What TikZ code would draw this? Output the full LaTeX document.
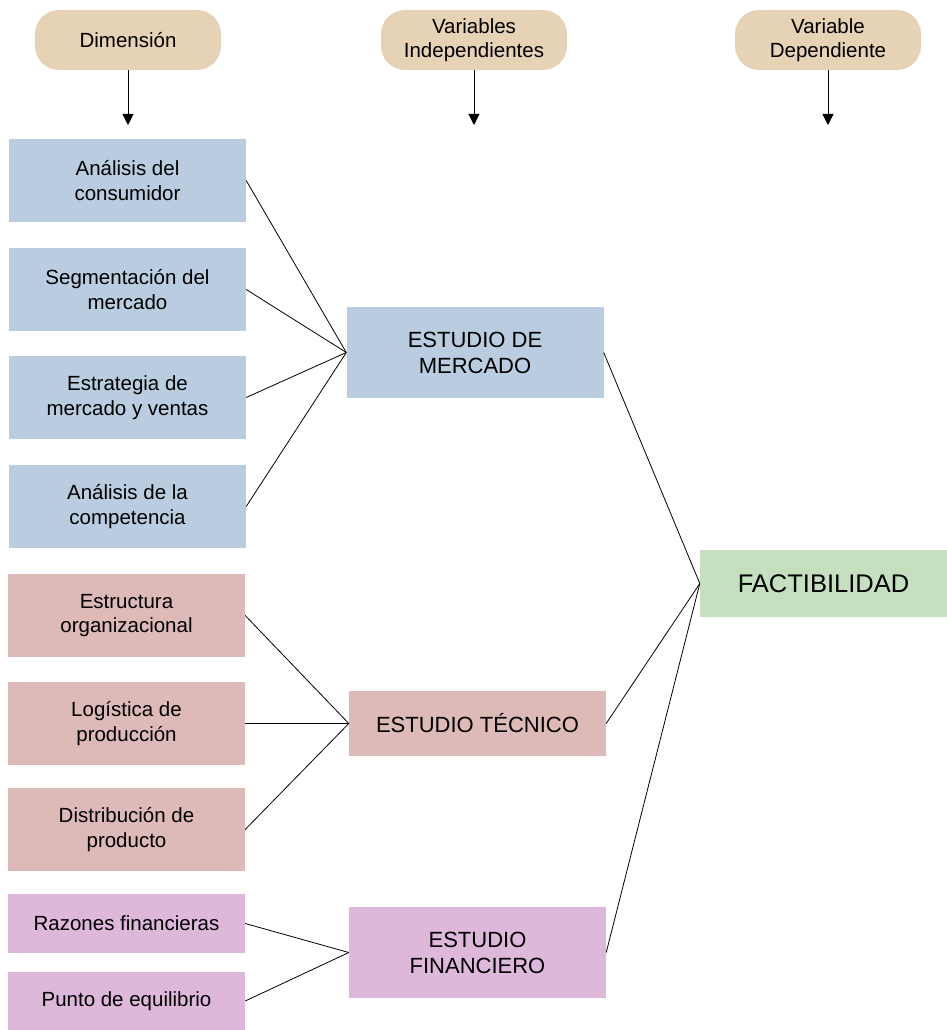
\documentclass[tikz,border=0pt]{standalone}
\usepackage{fontspec}
\setmainfont{Liberation Sans}
\usetikzlibrary{arrows.meta}

\definecolor{pillcol}{RGB}{230,210,181}
\definecolor{mercadocol}{RGB}{186,204,224}
\definecolor{tecnicocol}{RGB}{221,186,184}
\definecolor{financol}{RGB}{221,184,218}
\definecolor{factcol}{RGB}{197,224,190}

\begin{document}
\begin{tikzpicture}[x=1pt,y=-1pt,
		pill/.style={fill=pillcol, rounded corners=24pt, minimum width=186pt, minimum height=60pt, inner sep=0pt, align=center, font=\fontsize{20.5}{24.5}\selectfont},
		dimbox/.style={minimum width=237pt, minimum height=83pt, inner sep=0pt, align=center, font=\fontsize{20.5}{24.5}\selectfont},
		varbox/.style={minimum width=257pt, inner sep=0pt, align=center, font=\fontsize{22}{26}\selectfont},
		link/.style={black, line width=0.8pt},
		down/.style={black, line width=0.8pt, -{Triangle[width=11pt,length=11pt]}}
	]
		\useasboundingbox (0,0) rectangle (947,1030);
		
		% cabeceras
		\begin{scope}
		\node [pill] (hdim) at (128,40) {Dimensión};
		\node [pill] (hind) at (474,40) {Variables\\Independientes};
		\node [pill] (hdep) at (828,40) {Variable\\Dependiente};
		\coordinate (adim) at (128,125);
		\coordinate (aind) at (474,125);
		\coordinate (adep) at (828,125);
		\draw [down] (hdim.south) -- (adim);
		\draw [down] (hind.south) -- (aind);
		\draw [down] (hdep.south) -- (adep);
		\end{scope}
		
		% dimensiones
		\begin{scope}
		\node [dimbox, fill=mercadocol] (cons) at (127.5,180.5) {Análisis del\\consumidor};
		\node [dimbox, fill=mercadocol] (segm) at (127.5,289.5) {Segmentación del\\mercado};
		\node [dimbox, fill=mercadocol] (estr) at (127.5,397.5) {Estrategia de\\mercado y ventas};
		\node [dimbox, fill=mercadocol] (comp) at (127.5,506.5) {Análisis de la\\competencia};
		\node [dimbox, fill=tecnicocol] (orga) at (126.5,615.5) {Estructura\\organizacional};
		\node [dimbox, fill=tecnicocol] (logi) at (126.5,723.5) {Logística de\\producción};
		\node [dimbox, fill=tecnicocol] (dist) at (126.5,829.5) {Distribución de\\producto};
		\node [dimbox, fill=financol, minimum height=59pt] (razo) at (126.5,923.5) {Razones financieras};
		\node [dimbox, fill=financol, minimum height=58pt] (punt) at (126.5,1001) {Punto de equilibrio};
		\end{scope}
		
		% variables
		\begin{scope}
		\node [varbox, fill=mercadocol, minimum height=91pt] (merc) at (475,352.5) {ESTUDIO DE\\MERCADO};
		\node [varbox, fill=tecnicocol, minimum height=65pt] (tecn) at (477.5,723.5) {ESTUDIO TÉCNICO};
		\node [varbox, fill=financol, minimum height=91pt] (fina) at (477.5,952.5) {ESTUDIO\\FINANCIERO};
		\node [fill=factcol, minimum width=247pt, minimum height=67pt, inner sep=0pt, font=\fontsize{25.5}{30}\selectfont] (fact) at (823.5,583.5) {FACTIBILIDAD};
		\end{scope}
		
		\begin{scope}[link]
		\draw (cons.east) -- (merc.west);
		\draw (segm.east) -- (merc.west);
		\draw (estr.east) -- (merc.west);
		\draw (comp.east) -- (merc.west);
		\draw (orga.east) -- (tecn.west);
		\draw (logi.east) -- (tecn.west);
		\draw (dist.east) -- (tecn.west);
		\draw (razo.east) -- (fina.west);
		\draw (punt.east) -- (fina.west);
		\draw (merc.east) -- (fact.west);
		\draw (tecn.east) -- (fact.west);
		\draw (fina.east) -- (fact.west);
		\end{scope}
	\end{tikzpicture}
\end{document}
